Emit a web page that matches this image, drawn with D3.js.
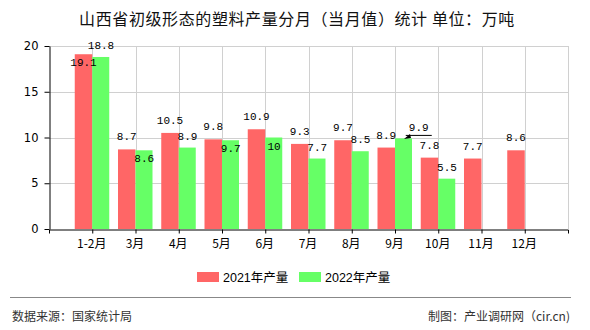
<!DOCTYPE html>
<html><head><meta charset="utf-8">
<script src="https://cdn.jsdelivr.net/npm/d3@7"></script>
<style>
html,body{margin:0;padding:0;background:#fff;}
svg{display:block;}
</style></head>
<body>
<script>
const categories = ["1-2月","3月","4月","5月","6月","7月","8月","9月","10月","11月","12月"];
const values2021 = [19.1, 8.7, 10.5, 9.8, 10.9, 9.3, 9.7, 8.9, 7.8, 7.7, 8.6];
const values2022 = [18.8, 8.6, 8.9, 9.7, 10, 7.7, 8.5, 9.9, 5.5, null, null];
const yTicks = [0, 5, 10, 15, 20];
const seriesNames = ["2021年产量", "2022年产量"];
const colors = ["#ff6666", "#66ff66"];
const title = "山西省初级形态的塑料产量分月（当月值）统计 单位：万吨";
const sourceText = "数据来源：国家统计局";
const creditText = "制图：产业调研网（cir.cn)";

// label placement (layout only)
const redPlace = ["inside","above","above","above","above","above","above","above","above","above","above"];
const greenPlace = ["above","inside","above","inside","inside","above","above","arrow","above",null,null];

(function () {
const W = 590, H = 330;
const pL = 49, pR = 568, pT = 46, pB = 229;
const svg = d3.select("body").append("svg").attr("width", W).attr("height", H);

const x = d3.scalePoint().domain(categories).range([pL, pR]).padding(1);
const y = d3.scaleLinear().domain([0, 20]).range([pB, pT]);
const bw = 17.5;

// title
svg.append("text").attr("x", 297).attr("y", 25).attr("text-anchor", "middle")
  .attr("font-family", "'Noto Sans CJK SC', sans-serif").attr("font-size", 16)
  .attr("letter-spacing", 0.6)
  .attr("fill", "#111").text(title);

// grid
const grid = svg.append("g").attr("stroke", "#d0d0d0").attr("stroke-width", 1);
yTicks.filter(t => t > 0).forEach(t => {
  grid.append("line").attr("x1", pL).attr("x2", pR)
    .attr("y1", Math.round(y(t)) + 0.5).attr("y2", Math.round(y(t)) + 0.5);
});
categories.forEach(c => {
  grid.append("line").attr("x1", Math.round(x(c)) + 0.5).attr("x2", Math.round(x(c)) + 0.5)
    .attr("y1", pT).attr("y2", pB);
});
grid.append("line").attr("x1", pR + 0.5).attr("x2", pR + 0.5).attr("y1", pT).attr("y2", pB);

// bars
const g = svg.append("g");
g.selectAll("rect.r").data(values2021).join("rect")
  .attr("x", (d, i) => x(categories[i]) - bw)
  .attr("y", d => y(d)).attr("width", bw).attr("height", d => y(0) - y(d))
  .attr("fill", colors[0]);
g.selectAll("rect.g").data(values2022.map((v, i) => ({v, i})).filter(d => d.v != null)).join("rect")
  .attr("x", d => x(categories[d.i]))
  .attr("y", d => y(d.v)).attr("width", bw - 0.5).attr("height", d => y(0) - y(d.v))
  .attr("fill", colors[1]);

// axes
const xAxis = svg.append("g").attr("transform", `translate(0,${pB + 0.5})`)
  .call(d3.axisBottom(x).tickSize(4).tickSizeOuter(4).tickPadding(6));
xAxis.select(".domain").attr("stroke", "#000");
xAxis.selectAll("text").attr("font-family", "'Noto Sans CJK SC', sans-serif").attr("font-size", 12).attr("fill", "#000").attr("dx", -1);

const yAxis = svg.append("g").attr("transform", `translate(${pL + 0.5},0)`)
  .call(d3.axisLeft(y).tickValues(yTicks).tickSize(5).tickSizeOuter(0).tickPadding(6));
yAxis.select(".domain").attr("stroke", "#000");
yAxis.selectAll("text").attr("font-family", "'DejaVu Sans', sans-serif").attr("font-size", 11.5).attr("fill", "#000");

// value labels
const lf = "'Liberation Mono', 'DejaVu Sans Mono', monospace";
const lab = svg.append("g").attr("font-family", lf).attr("font-size", 11).attr("fill", "#000").attr("text-anchor", "middle");
values2021.forEach((v, i) => {
  const cx = x(categories[i]) - bw / 2;
  const yy = y(v) + (redPlace[i] === "inside" ? 12 : -9);
  lab.append("text").attr("x", cx).attr("y", yy).text(v);
});
values2022.forEach((v, i) => {
  if (v == null) return;
  const cx = x(categories[i]) + bw / 2;
  const p = greenPlace[i];
  if (p === "arrow") {
    const ty = y(v) - 7.5;
    lab.append("text").attr("x", cx + 15).attr("y", ty).text(v);
    svg.append("line").attr("x1", cx + 2).attr("x2", cx + 28).attr("y1", ty + 4.5).attr("y2", ty + 4.5)
      .attr("stroke", "#000").attr("stroke-width", 1);
    const tx = x(categories[i]) + 9, tyy = y(v) + 0.5;
    svg.append("path").attr("d", `M${tx},${tyy} L${tx + 6},${tyy - 5} L${tx + 7},${tyy - 1} Z`).attr("fill", "#000");
  } else {
    const yy = y(v) + (p === "inside" ? 12 : -8);
    lab.append("text").attr("x", cx).attr("y", yy).text(v);
  }
});

// legend
const leg = svg.append("g").attr("font-family", "'Liberation Sans', 'Noto Sans CJK SC', sans-serif").attr("font-size", 12.5);
const legX = [197, 299];
seriesNames.forEach((n, i) => {
  leg.append("rect").attr("x", legX[i]).attr("y", 272).attr("width", 22).attr("height", 10).attr("fill", colors[i]);
  leg.append("text").attr("x", legX[i] + 26).attr("y", 282).attr("fill", "#000").text(n);
});

// footer
svg.append("line").attr("x1", 10).attr("x2", 571).attr("y1", 297.5).attr("y2", 297.5).attr("stroke", "#888").attr("stroke-width", 1);
svg.append("text").attr("x", 12).attr("y", 321).attr("font-family", "'Noto Sans CJK SC', sans-serif")
  .attr("font-size", 12).attr("fill", "#333").text(sourceText);
svg.append("text").attr("x", 570).attr("y", 321).attr("text-anchor", "end").attr("font-family", "'Noto Sans CJK SC', sans-serif")
  .attr("font-size", 12).attr("fill", "#333").text(creditText);
})();
</script>
</body></html>
